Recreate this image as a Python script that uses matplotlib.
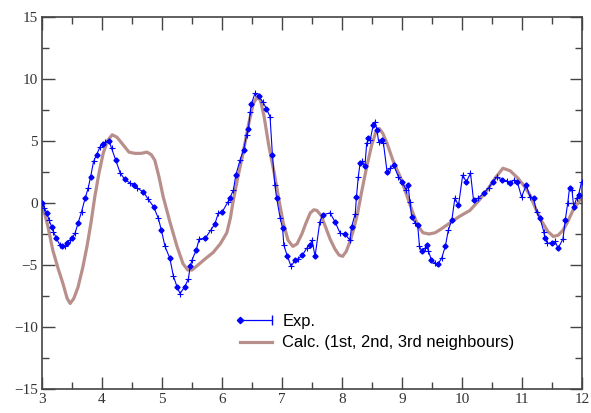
import matplotlib
matplotlib.use("Agg")
import matplotlib.pyplot as plt
from matplotlib.lines import Line2D
from matplotlib.ticker import MultipleLocator

# Experimental data (blue)
exp_x = [3.00, 3.04, 3.08, 3.12, 3.16, 3.19, 3.24, 3.30, 3.34, 3.38, 3.41, 3.46,
         3.50, 3.55, 3.60, 3.66, 3.72, 3.77, 3.81, 3.86, 3.91, 3.97, 4.01, 4.05,
         4.12, 4.16, 4.23, 4.30, 4.38, 4.47, 4.53, 4.58, 4.69, 4.77, 4.86, 4.94,
         4.99, 5.05, 5.13, 5.19, 5.25, 5.30, 5.38, 5.44, 5.47, 5.50, 5.57, 5.62,
         5.72, 5.81, 5.88, 5.94, 6.00, 6.10, 6.13, 6.19, 6.23, 6.30, 6.36, 6.41,
         6.44, 6.47, 6.49, 6.55, 6.61, 6.68, 6.74, 6.80, 6.84, 6.88, 6.91, 6.97,
         7.01, 7.03, 7.09, 7.15, 7.22, 7.27, 7.34, 7.41, 7.47, 7.50, 7.55, 7.63,
         7.68, 7.80, 7.88, 7.97, 8.05, 8.13, 8.16, 8.22, 8.24, 8.27, 8.30, 8.34,
         8.38, 8.41, 8.44, 8.47, 8.52, 8.55, 8.58, 8.61, 8.66, 8.69, 8.75, 8.80,
         8.86, 8.94, 9.00, 9.07, 9.10, 9.13, 9.16, 9.22, 9.26, 9.29, 9.33, 9.38,
         9.41, 9.44, 9.49, 9.55, 9.60, 9.66, 9.72, 9.77, 9.83, 9.88, 9.94, 10.01,
         10.07, 10.14, 10.19, 10.27, 10.36, 10.44, 10.51, 10.58, 10.66, 10.74,
         10.80, 10.86, 10.92, 10.99, 11.07, 11.13, 11.19, 11.24, 11.30, 11.36,
         11.38, 11.42, 11.50, 11.55, 11.60, 11.68, 11.72, 11.76, 11.79, 11.83,
         11.86, 11.91, 11.94, 11.99]
exp_y = [0.0, -0.4, -0.8, -1.4, -1.9, -2.3, -2.85, -3.4, -3.5, -3.45, -3.25, -3.0,
         -2.85, -2.45, -1.65, -0.7, 0.4, 1.2, 2.1, 3.35, 3.9, 4.55, 4.75, 4.9,
         5.0, 4.4, 3.45, 2.45, 1.9, 1.6, 1.45, 1.2, 0.9, 0.3, -0.3, -1.25,
         -2.2, -3.5, -4.45, -5.9, -6.75, -7.3, -6.75, -6.1, -5.1, -4.6, -3.8, -2.9,
         -2.85, -2.2, -1.7, -0.8, -0.75, 0.1, 0.4, 1.05, 2.25, 3.45, 4.3, 5.5,
         6.0, 7.35, 8.0, 8.85, 8.6, 8.15, 7.6, 6.95, 3.85, 1.45, 0.4, -1.25,
         -2.05, -3.4, -4.3, -5.1, -4.6, -4.5, -4.2, -3.65, -3.35, -3.0, -4.3, -1.5,
         -0.95, -0.8, -1.5, -2.45, -2.5, -3.0, -1.9, -0.85, 0.5, 2.1, 3.2, 3.35,
         2.95, 4.8, 5.2, 5.1, 6.3, 6.55, 5.9, 4.95, 5.1, 4.8, 2.5, 2.8,
         3.05, 2.1, 1.7, 1.05, 1.45, 0.1, -1.1, -1.65, -1.8, -3.5, -3.9, -3.65,
         -3.4, -3.9, -4.6, -4.85, -4.9, -4.45, -3.5, -2.2, -1.35, 0.4, -0.2, 2.25,
         1.7, 2.4, 0.25, 0.4, 0.8, 1.2, 1.7, 2.1, 1.85, 1.8,
         1.6, 1.85, 1.7, 0.5, 1.45, 0.5, 0.4, -0.7, -1.25, -2.3,
         -2.85, -3.25, -3.2, -3.1, -3.65, -2.9, -1.35, 0.0, 1.2, 1.05,
         -0.3, 0.4, 0.65, 1.7]

# Calculated curve (1st, 2nd, 3rd neighbours)
calc_x = [3.00, 3.10, 3.18, 3.27, 3.35, 3.42, 3.47, 3.53, 3.60, 3.68, 3.75, 3.82,
          3.88, 3.95, 4.02, 4.09, 4.17, 4.25, 4.35, 4.45, 4.55, 4.65, 4.75, 4.82,
          4.88, 4.95, 5.02, 5.13, 5.25, 5.35, 5.43, 5.50, 5.60, 5.72, 5.85, 5.97,
          6.08, 6.14, 6.18, 6.26, 6.35, 6.44, 6.52, 6.58, 6.64, 6.70, 6.78, 6.87,
          6.95, 7.02, 7.10, 7.18, 7.25, 7.33, 7.40, 7.47, 7.53, 7.58, 7.65, 7.73,
          7.80, 7.88, 7.95, 8.01, 8.07, 8.14, 8.20, 8.26, 8.33, 8.41, 8.49, 8.56,
          8.62, 8.68, 8.75, 8.85, 8.97, 9.08, 9.18, 9.27, 9.35, 9.45, 9.55, 9.65,
          9.80, 9.95, 10.13, 10.28, 10.42, 10.55, 10.68, 10.80, 10.93, 11.03,
          11.13, 11.23, 11.33, 11.43, 11.52, 11.60, 11.68, 11.76, 11.85, 11.93,
          12.00]
calc_y = [0.0, -1.9, -3.8, -5.3, -6.5, -7.7, -8.1, -7.7, -6.8, -5.2, -3.5, -1.5,
          0.5, 2.4, 4.0, 5.0, 5.5, 5.3, 4.7, 4.1, 4.0, 4.0, 4.1, 3.9,
          3.45, 2.1, 0.5, -1.5, -3.5, -4.9, -5.4, -5.4, -5.0, -4.5, -4.0, -3.3,
          -2.4, -1.2, 0.0, 2.0, 4.0, 6.3, 8.0, 8.5, 8.3, 7.0, 4.6, 2.4,
          0.2, -1.6, -3.0, -3.5, -3.3, -2.5, -1.6, -0.8, -0.55, -0.6, -1.0, -2.0,
          -2.9, -3.7, -4.2, -4.3, -3.9, -3.0, -2.0, -0.8, 1.0, 2.9, 4.6, 5.7,
          6.0, 5.6, 4.8, 3.4, 2.1, 0.6, -0.8, -1.9, -2.4, -2.5, -2.4, -2.1,
          -1.6, -1.1, -0.6, 0.2, 1.05, 2.0, 2.8, 2.6, 2.0, 1.4,
          0.65, -0.5, -1.5, -2.3, -2.7, -2.6, -2.2, -1.5, -0.56, 0.0,
          0.5]

exp_color = '#0000ff'
calc_color = '#b88f8a'
axis_color = '#444444'


# Legend handle for Exp.: diamond on the left, line, bar on the right
class ExpHandler:
    def legend_artist(self, legend, orig_handle, fontsize, handlebox):
        x0, y0 = handlebox.xdescent, handlebox.ydescent
        w, h = handlebox.width, handlebox.height
        ym = y0 + h / 2
        tr = handlebox.get_transform()
        line = Line2D([x0, x0 + w], [ym, ym], color=exp_color, lw=0.9, transform=tr)
        dia = Line2D([x0], [ym], color=exp_color, marker='D', ms=3.2, ls='none', transform=tr)
        bar = Line2D([x0 + w], [ym], color=exp_color, marker='|', ms=7, ls='none', transform=tr)
        for a in (line, dia, bar):
            handlebox.add_artist(a)
        return line


fig = plt.figure(figsize=(5.91, 4.13), dpi=100)
ax = fig.add_axes([0.071, 0.058, 0.914, 0.901])

# Calculated curve
calc_line, = ax.plot(calc_x, calc_y, color=calc_color, lw=2.3,
                     label='Calc. (1st, 2nd, 3rd neighbours)', zorder=2)

# Experimental line with alternating diamond / plus markers
exp_line, = ax.plot(exp_x, exp_y, color=exp_color, lw=0.8, label='Exp.', zorder=3)
ax.plot(exp_x[::2], exp_y[::2], ls='none', marker='D', ms=2.6, color=exp_color, zorder=4)
ax.plot(exp_x[1::2], exp_y[1::2], ls='none', marker='+', ms=5, mew=0.8, color=exp_color, zorder=4)

ax.set_xlim(3, 12)
ax.set_ylim(-15, 15)
ax.xaxis.set_major_locator(MultipleLocator(1))
ax.xaxis.set_minor_locator(MultipleLocator(0.5))
ax.yaxis.set_major_locator(MultipleLocator(5))
ax.yaxis.set_minor_locator(MultipleLocator(2.5))

ax.tick_params(which='both', direction='in', top=True, right=True,
               color=axis_color, width=1.0, pad=3,
               labelsize=11, labelcolor='#333333')
ax.tick_params(which='major', length=9)
ax.tick_params(which='minor', length=5)
for lab in ax.get_xticklabels() + ax.get_yticklabels():
    lab.set_family('Liberation Serif')
for sp in ax.spines.values():
    sp.set_color(axis_color)
    sp.set_linewidth(1.2)

ax.legend([exp_line, calc_line], ['Exp.', 'Calc. (1st, 2nd, 3rd neighbours)'],
          handler_map={exp_line: ExpHandler()},
          loc='upper left', bbox_to_anchor=(0.367, 0.202), frameon=False,
          borderpad=0, borderaxespad=0, handlelength=1.95, handletextpad=0.6,
          labelspacing=0.4,
          prop={'family': 'Liberation Sans', 'size': 11.9})

fig.savefig('out.png', dpi=100)
